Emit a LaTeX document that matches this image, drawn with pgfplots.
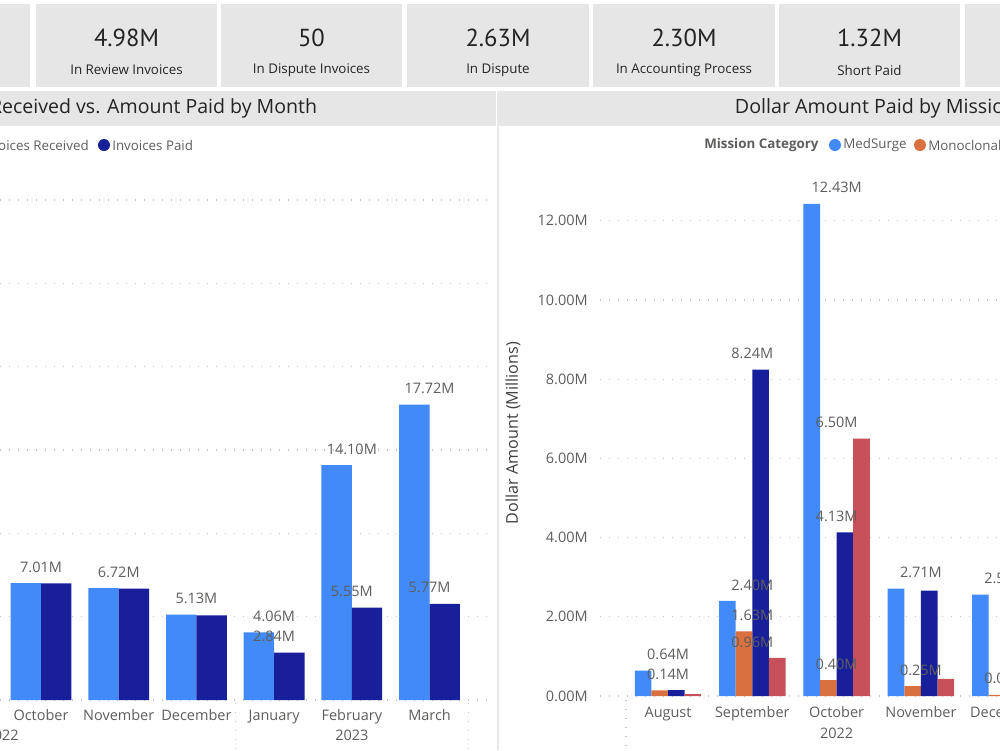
\documentclass[border=0pt]{standalone}
\usepackage{fontspec}
\setmainfont{Open Sans}
\newfontfamily\kpifont{PT Sans}
\usepackage{pgfplots}
\usepackage{pgfplotstable}
\pgfplotsset{compat=1.18}

\definecolor{recblue}{HTML}{418AF7}
\definecolor{paidnavy}{HTML}{17209A}
\definecolor{monoorange}{HTML}{D9703F}
\definecolor{catred}{HTML}{C8505A}
\definecolor{labelgray}{HTML}{605E5C}
\definecolor{axisink}{HTML}{404040}
\definecolor{titleink}{HTML}{252423}
\definecolor{panelgray}{HTML}{E6E6E6}
\definecolor{gridgray}{HTML}{C4C4C4}

% invoices received / paid per month, millions of dollars
% (show* = 1 where the value label is printed)
\pgfplotstableread{
idx rec paid showrec showpaid
0 7.01 7.00 1 0
1 6.72 6.69 1 0
2 5.13 5.08 1 0
3 4.06 2.84 1 1
4 14.10 5.55 1 1
5 17.72 5.77 1 1
}\monthly

% dollar amount paid by mission category, millions of dollars
\pgfplotstableread{
idx med mono catc catd smed smono scatc scatd
0 0.64 0.14 0.15 0.05 1 1 0 0
1 2.40 1.63 8.24 0.96 1 1 1 1
2 12.43 0.40 4.13 6.50 1 1 1 1
3 2.71 0.25 2.66 0.43 1 1 0 0
4 2.56 0.03 nan nan 1 1 0 0
}\mission

\newcommand\ticksize{\fontsize{10.3}{12}\selectfont}

\tikzset{dotgrid/.style={gridgray, line width=0.9pt, dash pattern=on 0.9pt off 5.5pt}}

\pgfplotsset{
  panel/.style={
    scale only axis, anchor=south west, enlargelimits=false, clip=false,
    axis line style={draw=none}, major tick length=0pt,
    ymajorgrids, grid style={dotgrid},
    tick label style={font=\ticksize, text=labelgray},
    /pgf/number format/assume math mode=true,
  },
  % invisible copy of a bar series that carries the printed value labels
  valuelabels/.style={
    draw=none, fill=none, forget plot,
    y filter/.expression={\thisrow{#1}>0.5 ? y : nan},
    point meta=y,
    nodes near coords={\pgfmathprintnumber[fixed,fixed zerofill,precision=2]{\pgfplotspointmeta}M},
    every node near coord/.append style={font=\ticksize, text=labelgray,
      anchor=south, inner sep=0pt, yshift=2.6mm},
  },
}

\begin{document}
\begin{tikzpicture}
% the dashboard canvas: 250mm x 187.5mm, one layout unit = 0.25mm
\path[use as bounding box, clip] (0,0) rectangle (250mm,187.5mm);
\begin{scope}[x=0.25mm, y=0.25mm]
\fill[white] (0,0) rectangle (1000,750);

% KPI cards
\foreach \xa/\xb/\val/\lab in {
    -200/30/{}/{},
    36/217/4.98M/In Review Invoices,
    221/402/50/In Dispute Invoices,
    407/589/2.63M/In Dispute,
    593/775/2.30M/In Accounting Process,
    779/960/1.32M/Short Paid,
    965/1200/{}/{}}{
  \fill[panelgray] (\xa,663) rectangle (\xb,746);
  \node[font=\kpifont\fontsize{17.5}{20}\selectfont, text=titleink]
    at ({(\xa+\xb)/2},712) {\val};
  \node[font=\fontsize{9.5}{11}\selectfont, text=titleink]
    at ({(\xa+\xb)/2},680) {\lab};
}

% panel headers
\fill[panelgray] (-200,624) rectangle (496,659);
\fill[panelgray] (499,624) rectangle (1200,659);
\draw[gray!18, line width=0.8pt] (498,0) -- (498,659);
\node[anchor=east, font=\fontsize{13.9}{16}\selectfont, text=titleink]
  at (322,642) {Invoices Received vs. Amount Paid by Month};
\node[anchor=west, font=\fontsize{14}{16}\selectfont, text=titleink]
  at (730,642) {Dollar Amount Paid by Mission Category};

% legends
\node[anchor=east, font=\fontsize{9.5}{11}\selectfont, text=labelgray, inner sep=0pt]
  (rl) at (89,605) {Invoices Received};
\fill[recblue] ([xshift=-2.2mm]rl.west) circle (6);
\fill[paidnavy] (104,605) circle (6);
\node[anchor=west, font=\fontsize{9.5}{11}\selectfont, text=labelgray, inner sep=0pt]
  at (112,605) {Invoices Paid};

\node[anchor=west, font=\bfseries\fontsize{9.5}{11}\selectfont, text=labelgray, inner sep=0pt]
  at (704,605) {Mission Category};
\fill[recblue] (835,605) circle (6);
\node[anchor=west, font=\fontsize{9.5}{11}\selectfont, text=labelgray, inner sep=0pt]
  at (843,605) {MedSurge};
\fill[monoorange] (920,605) circle (6);
\node[anchor=west, font=\fontsize{9.5}{11}\selectfont, text=labelgray, inner sep=0pt]
  at (928,605) {Monoclonal};

\node[rotate=90, font=\fontsize{11.5}{13}\selectfont, text=axisink] at (513,317)
  {Dollar Amount (Millions)};
\end{scope}

% received vs paid by month
\begin{axis}[panel, at={(0mm,12.5mm)}, width=123mm, height=125mm,
    xmin=-0.5277, xmax=5.804, ymin=0, ymax=30,
    ytick={0,5,...,30}, yticklabels={},
    xtick={0,...,5},
    xticklabels={October,November,December,January,February,March},
    xticklabel style={anchor=base, yshift=-5mm}]
  \addplot[ybar, bar width=7.6mm, bar shift=-3.8mm, fill=recblue, draw=none]
    table[x=idx, y=rec] {\monthly};
  \addplot[ybar, bar width=7.6mm, bar shift=3.8mm, fill=paidnavy, draw=none]
    table[x=idx, y=paid] {\monthly};
  \addplot[ybar, bar width=7.6mm, bar shift=-3.8mm, valuelabels=showrec]
    table[x=idx, y=rec] {\monthly};
  \addplot[ybar, bar width=7.6mm, bar shift=3.8mm, valuelabels=showpaid]
    table[x=idx, y=paid] {\monthly};
  \node[anchor=base, yshift=-10mm, font=\ticksize, text=labelgray] at (axis cs:-0.5,0) {2022};
  \node[anchor=base, yshift=-10mm, font=\ticksize, text=labelgray] at (axis cs:4,0) {2023};
  \draw[dotgrid] (axis cs:2.5,0) ++(0pt,-0.75mm) -- ++(0pt,-14mm);
  \draw[dotgrid] (axis cs:5.5,0) ++(0pt,-0.75mm) -- ++(0pt,-14mm);
\end{axis}

% amount paid by mission category
\begin{axis}[panel, at={(150mm,13.5mm)}, width=110mm, height=128.7mm,
    xmin=-0.807, xmax=4.413, ymin=0, ymax=13,
    ytick={0,2,...,12},
    yticklabel={\pgfmathprintnumber[fixed,fixed zerofill,precision=2]{\tick}M},
    yticklabel style={anchor=east, inner sep=0pt, xshift=-3mm},
    xtick={0,...,4},
    xticklabels={August,September,October,November,December},
    xticklabel style={anchor=base, yshift=-5.25mm}]
  \addplot[ybar, bar width=4.15mm, bar shift=-6.225mm, fill=recblue, draw=none]
    table[x=idx, y=med] {\mission};
  \addplot[ybar, bar width=4.15mm, bar shift=-2.075mm, fill=monoorange, draw=none]
    table[x=idx, y=mono] {\mission};
  \addplot[ybar, bar width=4.15mm, bar shift=2.075mm, fill=paidnavy, draw=none]
    table[x=idx, y=catc] {\mission};
  \addplot[ybar, bar width=4.15mm, bar shift=6.225mm, fill=catred, draw=none]
    table[x=idx, y=catd] {\mission};
  \addplot[ybar, bar width=4.15mm, bar shift=-6.225mm, valuelabels=smed]
    table[x=idx, y=med] {\mission};
  \addplot[ybar, bar width=4.15mm, bar shift=-2.075mm, valuelabels=smono]
    table[x=idx, y=mono] {\mission};
  \addplot[ybar, bar width=4.15mm, bar shift=2.075mm, valuelabels=scatc]
    table[x=idx, y=catc] {\mission};
  \addplot[ybar, bar width=4.15mm, bar shift=6.225mm, valuelabels=scatd]
    table[x=idx, y=catd] {\mission};
  \node[anchor=base, yshift=-10.5mm, font=\ticksize, text=labelgray] at (axis cs:2,0) {2022};
  \draw[dotgrid] (axis cs:-0.5,0) ++(0pt,-1mm) -- ++(0pt,-14mm);
\end{axis}
\end{tikzpicture}
\end{document}
